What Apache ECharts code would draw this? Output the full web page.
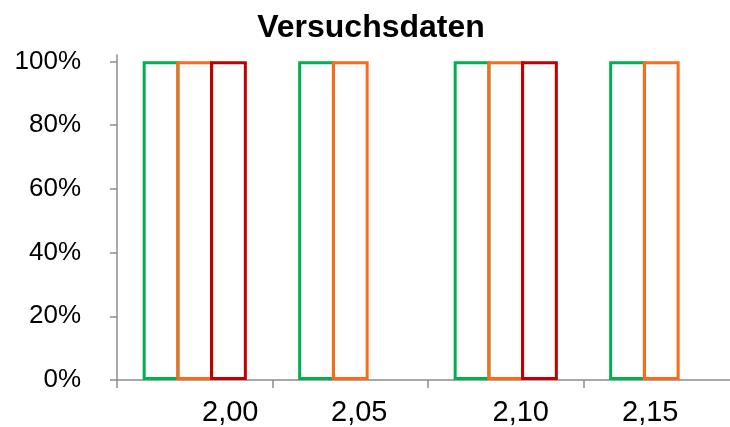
<!DOCTYPE html>
<html>
<head>
<meta charset="utf-8">
<script src="https://cdn.jsdelivr.net/npm/echarts@6/dist/echarts.min.js"></script>
<style>
  html, body { margin: 0; padding: 0; background: #fff; overflow: hidden; }
  /* the original plot area runs past the right edge of the picture */
  #chart { width: 742px; height: 427px; }
</style>
</head>
<body>
<div id="chart"></div>
<script>
// Versuchsdaten – Anteil je Messpunkt
const categories = ['2,00', '2,05', '2,10', '2,15'];
const gruen = [100, 100, 100, 100];
const orange = [100, 100, 100, 100];
const rot = [100, null, 100, null];
const yTicks = [0, 20, 40, 60, 80, 100];

const font = 'Liberation Sans, Arial, sans-serif';
const axisGrey = '#8c8c8c';

const myChart = echarts.init(document.getElementById('chart'));

function hollow(name, data, color) {
  return {
    name: name,
    type: 'bar',
    data: data,
    barGap: '-8.5%',
    barCategoryGap: '33%',
    itemStyle: {
      color: 'rgba(255,255,255,0)',
      borderColor: color,
      borderWidth: 3
    }
  };
}

const labelStyle = { fontFamily: font, fontSize: 29, color: '#000' };

const option = {
  animation: false,
  title: {
    text: 'Versuchsdaten',
    left: 'center',
    top: 7,
    textStyle: { fontFamily: font, fontSize: 32, fontWeight: 'bold', color: '#000' }
  },
  grid: { left: 117, top: 55, right: 3, bottom: 46, containLabel: false },
  xAxis: {
    type: 'category',
    data: categories,
    axisLine: { lineStyle: { color: axisGrey, width: 1.5 } },
    axisTick: { show: true, length: 8, lineStyle: { color: axisGrey, width: 1.5 } },
    axisLabel: {
      margin: 18,
      color: '#000',
      fontFamily: font,
      fontSize: 29,
      // Beschriftungen sitzen im Original leicht versetzt
      formatter: function (v, i) { return '{p' + i + '|' + v + '}'; },
      rich: {
        p0: Object.assign({ padding: [0, 0, 0, 71] }, labelStyle),
        p1: Object.assign({ padding: [0, 0, 0, 18] }, labelStyle),
        p2: Object.assign({ padding: [0, 0, 0, 30] }, labelStyle),
        p3: Object.assign({ padding: [0, 22, 0, 0] }, labelStyle)
      }
    }
  },
  yAxis: {
    type: 'value',
    min: 0,
    max: 102,
    splitLine: { show: false },
    axisLine: { show: true, lineStyle: { color: axisGrey, width: 1.5 } },
    axisTick: { show: true, length: 7, customValues: yTicks, lineStyle: { color: axisGrey, width: 1.5 } },
    axisLabel: {
      customValues: yTicks,
      margin: 36,
      color: '#000',
      fontFamily: font,
      fontSize: 26,
      formatter: '{value}%'
    }
  },
  series: [
    hollow('A', gruen, '#00b050'),
    hollow('B', orange, '#ff6a1a'),
    hollow('C', rot, '#c00000')
  ]
};

myChart.setOption(option);
</script>
</body>
</html>
